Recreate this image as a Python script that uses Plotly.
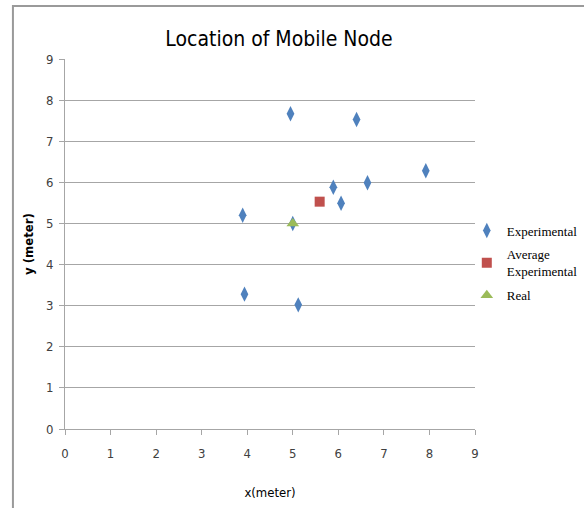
import plotly.graph_objects as go

# Measured positions of the mobile node (metres)
exp_x = [4.95, 6.40, 7.92, 5.89, 6.64, 6.06, 3.90, 3.94, 5.12, 5.00]
exp_y = [7.67, 7.53, 6.28, 5.88, 5.99, 5.49, 5.20, 3.28, 3.02, 5.00]
avg_x = [5.59]
avg_y = [5.53]
real_x = [5.0]
real_y = [5.0]
ticks = list(range(0, 10))

narrow = "DejaVu Sans Condensed, Liberation Sans Narrow, Lato, sans-serif"
serif = "Liberation Serif, Times New Roman, serif"

fig = go.Figure()
fig.add_trace(go.Scatter(
    x=exp_x, y=exp_y, mode="markers", name="Experimental", legendgroup="exp",
    marker=dict(symbol="diamond-tall", size=11, color="#4F81BD"),
))
fig.add_trace(go.Scatter(
    x=avg_x, y=avg_y, mode="markers", name="Average<br>Experimental", legendgroup="avg",
    marker=dict(symbol="square", size=10, color="#C0504D"),
))
fig.add_trace(go.Scatter(
    x=real_x, y=real_y, mode="markers", name="Real", legendgroup="real",
    marker=dict(symbol="triangle-up", size=11, color="#9BBB59"),
))

axis_common = dict(
    range=[0, 9], tickvals=ticks, showline=True, linecolor="#a6a6a6",
    linewidth=1, ticks="outside", ticklen=5, tickcolor="#a6a6a6",
    tickfont=dict(family=narrow, size=13, color="#404040"),
    zeroline=False, fixedrange=True,
)

fig.update_layout(
    width=584, height=508,
    margin=dict(l=65, r=109, t=59, b=79, autoexpand=False),
    paper_bgcolor="white", plot_bgcolor="white",
    title=dict(text="Location of Mobile Node", x=279 / 584, xanchor="center",
               y=1 - 39 / 508, yanchor="middle",
               font=dict(family=narrow, size=21, color="black")),
    xaxis=dict(**axis_common, showgrid=False, ticklabelstandoff=7,
               title=dict(text="x(meter)", standoff=28,
                          font=dict(family=narrow, size=13, color="black"))),
    yaxis=dict(**axis_common, showgrid=True, gridcolor="#a6a6a6", gridwidth=1,
               ticklabelstandoff=3,
               title=dict(text="<b>y (meter)</b>", standoff=9,
                          font=dict(family=narrow, size=13, color="black"))),
    legend=dict(x=0.98, y=0.577, xanchor="left", yanchor="top",
                font=dict(family=serif, size=13, color="black"),
                bgcolor="rgba(0,0,0,0)", itemwidth=30,
                traceorder="grouped", tracegroupgap=4),
    showlegend=True,
    shapes=[dict(type="rect", xref="paper", yref="paper",
                 x0=-0.127, y0=-0.5, x1=2.0, y1=1.143,
                 line=dict(color="#9a9a9a", width=2), layer="below")],
)

fig.write_html("out.html")
